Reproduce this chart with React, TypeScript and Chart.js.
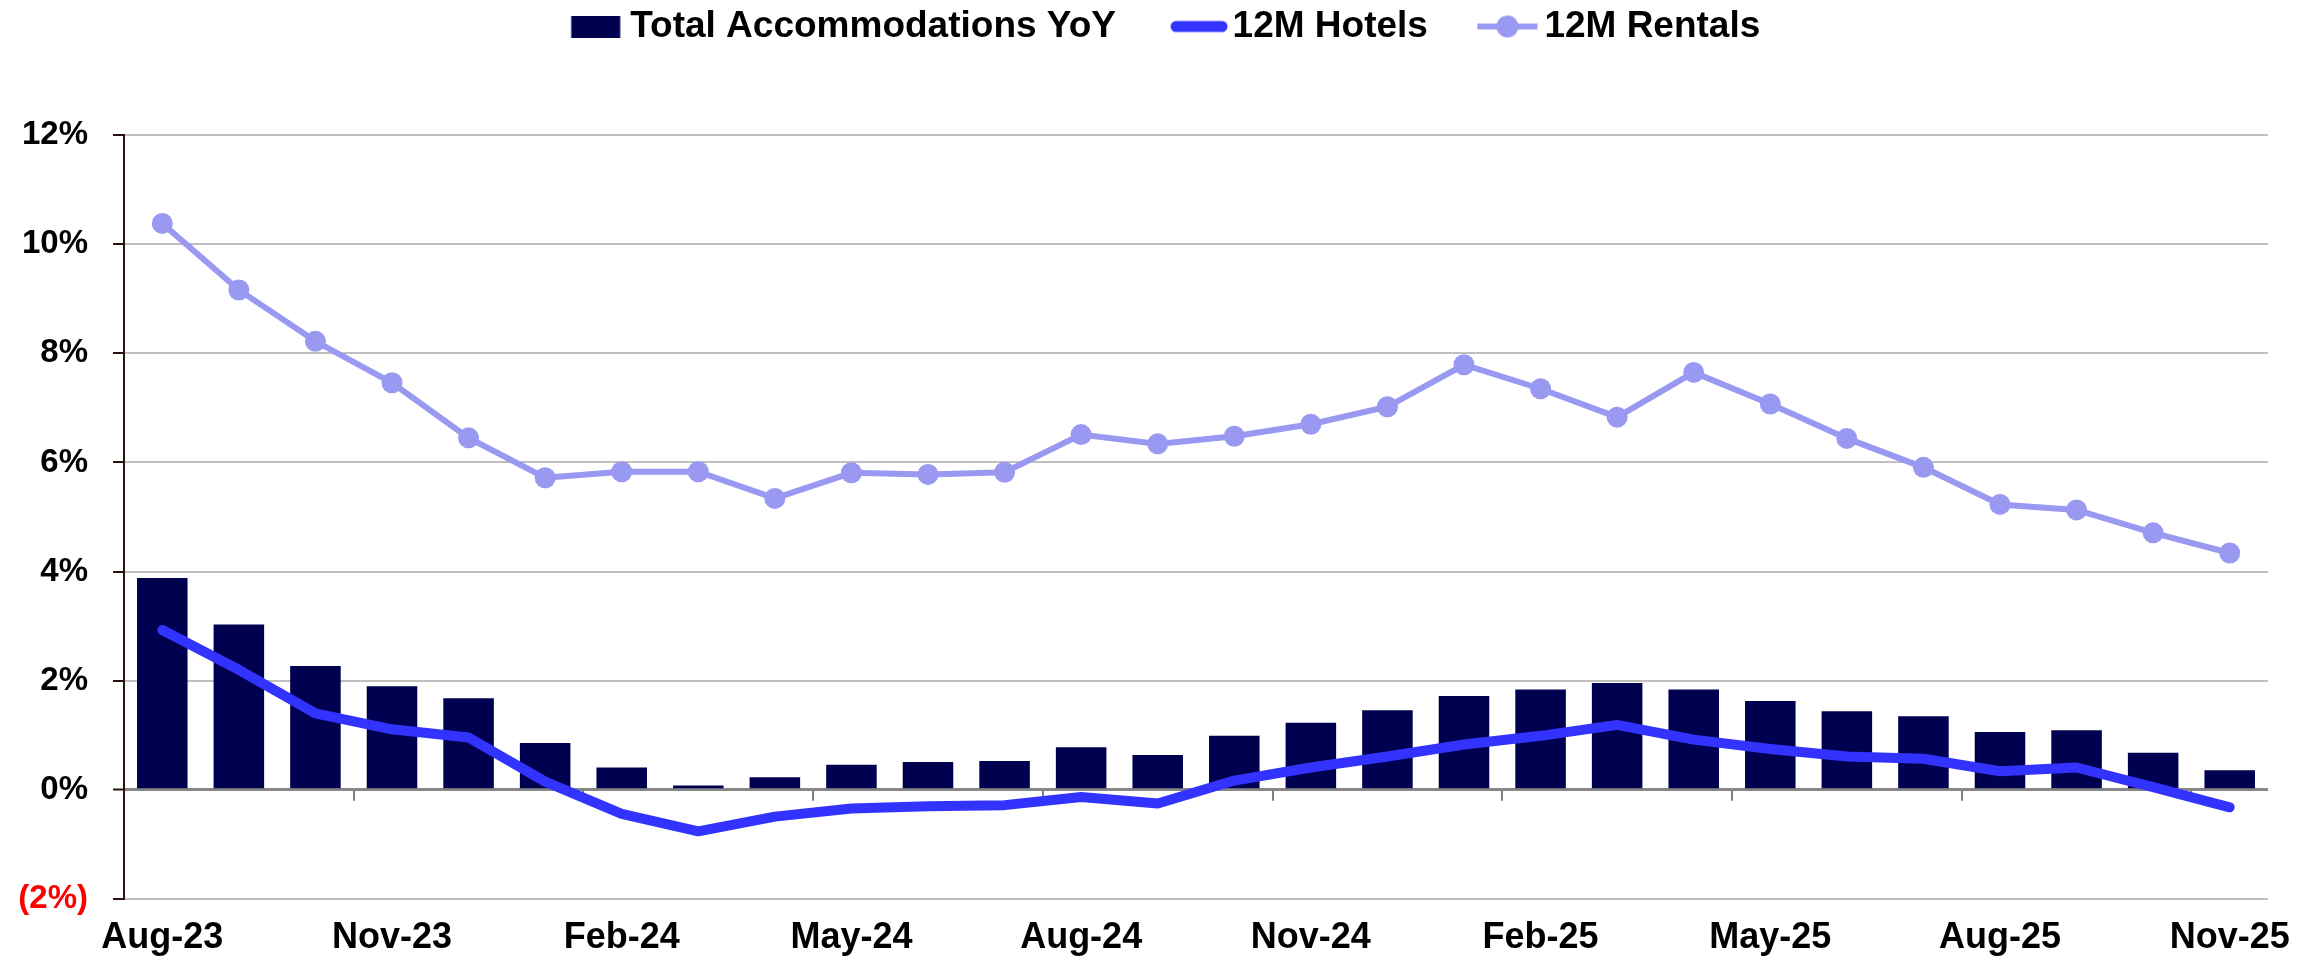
import React, { useEffect, useRef } from 'react';
import { Chart, registerables } from 'chart.js';

Chart.register(...registerables);

const months = [
  'Aug-23', 'Sep-23', 'Oct-23', 'Nov-23', 'Dec-23', 'Jan-24', 'Feb-24', 'Mar-24', 'Apr-24', 'May-24',
  'Jun-24', 'Jul-24', 'Aug-24', 'Sep-24', 'Oct-24', 'Nov-24', 'Dec-24', 'Jan-25', 'Feb-25', 'Mar-25',
  'Apr-25', 'May-25', 'Jun-25', 'Jul-25', 'Aug-25', 'Sep-25', 'Oct-25', 'Nov-25',
];

const totalYoY = [
  3.88, 3.03, 2.27, 1.90, 1.68, 0.86, 0.41, 0.08, 0.23, 0.46,
  0.51, 0.53, 0.78, 0.64, 0.99, 1.23, 1.46, 1.72, 1.84, 1.96,
  1.84, 1.63, 1.44, 1.35, 1.06, 1.09, 0.68, 0.36,
];

const hotels12M = [
  2.93, 2.20, 1.40, 1.11, 0.96, 0.15, -0.44, -0.76, -0.49, -0.34,
  -0.30, -0.28, -0.13, -0.25, 0.17, 0.41, 0.61, 0.83, 0.99, 1.19,
  0.92, 0.75, 0.61, 0.57, 0.34, 0.41, 0.05, -0.32,
];

const rentals12M = [
  10.38, 9.16, 8.22, 7.46, 6.45, 5.72, 5.83, 5.83, 5.34, 5.81,
  5.78, 5.82, 6.51, 6.34, 6.48, 6.70, 7.02, 7.79, 7.35, 6.83,
  7.65, 7.07, 6.44, 5.91, 5.23, 5.13, 4.71, 4.34,
];

const yTicks = [-2, 0, 2, 4, 6, 8, 10, 12];
const seriesNames = ['Total Accommodations YoY', '12M Hotels', '12M Rentals'];

const BAR_COLOR = '#000050';
const HOTEL_COLOR = '#3333FF';
const RENTAL_COLOR = '#9999F2';
const AXIS_COLOR = '#2B1010';
const FONT = "'Liberation Sans', Arial, Helvetica, sans-serif";

const MARKER_W = 118;
const BOX_W = 90;

function makeCanvas(w: number, h: number) {
  const c = document.createElement('canvas');
  c.width = w;
  c.height = h;
  return c;
}

function makeBarMarker() {
  const c = makeCanvas(MARKER_W, 22);
  const ctx = c.getContext('2d')!;
  ctx.fillStyle = BAR_COLOR;
  ctx.fillRect(MARKER_W - 5.5 - 49, 0, 49, 22);
  return c;
}

function makeHotelMarker() {
  const c = makeCanvas(MARKER_W, 14);
  const ctx = c.getContext('2d')!;
  ctx.strokeStyle = HOTEL_COLOR;
  ctx.lineWidth = 11;
  ctx.lineCap = 'round';
  ctx.beginPath();
  ctx.moveTo(MARKER_W - 52, 7);
  ctx.lineTo(MARKER_W - 6, 7);
  ctx.stroke();
  return c;
}

function makeRentalMarker() {
  const c = makeCanvas(MARKER_W, 24);
  const ctx = c.getContext('2d')!;
  ctx.strokeStyle = RENTAL_COLOR;
  ctx.fillStyle = RENTAL_COLOR;
  ctx.lineWidth = 6;
  ctx.beginPath();
  ctx.moveTo(MARKER_W - 2.5 - 60, 12);
  ctx.lineTo(MARKER_W - 2.5, 12);
  ctx.stroke();
  ctx.beginPath();
  ctx.arc(MARKER_W - 2.5 - 30, 12, 11, 0, Math.PI * 2);
  ctx.fill();
  return c;
}

const fmtPct = (v: number) => (v < 0 ? `(${Math.abs(v)}%)` : `${v}%`);

const zeroTickPlugin = {
  id: 'zeroTicks',
  beforeDatasetsDraw(chart: any) {
    const xs = chart.scales.x;
    const ys = chart.scales.y;
    const y0 = ys.getPixelForValue(0);
    const ctx = chart.ctx;
    ctx.save();
    ctx.strokeStyle = '#808080';
    ctx.lineWidth = 2;
    for (let k = 3; k < months.length; k += 3) {
      const px = Math.round(xs.getPixelForValue(k - 0.5));
      ctx.beginPath();
      ctx.moveTo(px, y0);
      ctx.lineTo(px, y0 + 11);
      ctx.stroke();
    }
    ctx.restore();
  },
};

export default function App() {
  const ref = useRef<HTMLCanvasElement>(null);

  useEffect(() => {
    const canvas = ref.current!;
    const markers = [makeBarMarker(), makeHotelMarker(), makeRentalMarker()];

    const chart = new Chart(canvas, {
      type: 'bar',
      data: {
        labels: months,
        datasets: [
          {
            type: 'line',
            label: seriesNames[1],
            data: hotels12M,
            borderColor: HOTEL_COLOR,
            backgroundColor: HOTEL_COLOR,
            borderWidth: 10,
            pointRadius: 0,
            tension: 0,
            borderCapStyle: 'round',
            borderJoinStyle: 'round',
            order: 1,
          } as any,
          {
            type: 'line',
            label: seriesNames[2],
            data: rentals12M,
            borderColor: RENTAL_COLOR,
            backgroundColor: RENTAL_COLOR,
            borderWidth: 6,
            pointRadius: 10.5,
            pointBackgroundColor: RENTAL_COLOR,
            pointBorderWidth: 0,
            tension: 0,
            order: 2,
          } as any,
          {
            type: 'bar',
            label: seriesNames[0],
            data: totalYoY,
            backgroundColor: BAR_COLOR,
            borderWidth: 0,
            categoryPercentage: 1,
            barPercentage: 0.66,
            order: 3,
          } as any,
        ],
      },
      options: {
        responsive: false,
        animation: false,
        devicePixelRatio: 1,
        layout: { padding: { left: 14, right: 53, top: 0, bottom: 0 } },
        plugins: {
          tooltip: { enabled: false },
          title: {
            display: true,
            text: '',
            weight: 500,
            font: { size: 10, lineHeight: 1 },
            padding: { top: 70, bottom: 0 },
          } as any,
          legend: {
            display: true,
            position: 'top',
            align: 'center',
            labels: {
              usePointStyle: true,
              pointStyleWidth: BOX_W,
              boxHeight: 37,
              padding: 8,
              color: '#000000',
              font: { family: FONT, size: 37, weight: 'bold' },
              generateLabels: () => [0, 1, 2].map((i) => ({
                text: seriesNames[i],
                fillStyle: [BAR_COLOR, HOTEL_COLOR, RENTAL_COLOR][i],
                strokeStyle: [BAR_COLOR, HOTEL_COLOR, RENTAL_COLOR][i],
                lineWidth: 0,
                pointStyle: markers[i],
                hidden: false,
                datasetIndex: [2, 0, 1][i],
                fontColor: '#000000',
              })) as any,
            },
          },
        },
        scales: {
          x: {
            grid: { display: false, drawTicks: false },
            border: { display: false },
            ticks: {
              autoSkip: false,
              maxRotation: 0,
              minRotation: 0,
              padding: 17,
              color: '#000000',
              font: { family: FONT, size: 36, weight: 'bold' },
              callback: (_v: any, i: number) => (i % 3 === 0 ? months[i] : ''),
            },
            afterFit: (s: any) => {
              s.height = 62;
            },
          },
          y: {
            min: -2,
            max: 12,
            afterBuildTicks: (s: any) => {
              s.ticks = yTicks.map((v) => ({ value: v }));
            },
            ticks: {
              padding: 25,
              font: { family: FONT, size: 33, weight: 'bold' },
              color: (ctx: any) => (ctx.tick && ctx.tick.value < 0 ? '#FF0000' : '#000000'),
              callback: (v: any) => fmtPct(Number(v)),
            },
            grid: {
              color: (ctx: any) => (ctx.tick && ctx.tick.value === 0 ? '#878787' : '#BFBFBF'),
              lineWidth: (ctx: any) => (ctx.tick && ctx.tick.value === 0 ? 3 : 2),
              drawTicks: true,
              tickLength: 11,
              tickWidth: 2,
              tickColor: AXIS_COLOR,
            } as any,
            border: { display: true, color: AXIS_COLOR, width: 2 },
            afterFit: (s: any) => {
              s.width = 110;
            },
          },
        },
      },
      plugins: [zeroTickPlugin],
    });

    return () => chart.destroy();
  }, []);

  return (
    <div style={{ position: 'absolute', left: 0, top: 0, width: 2321, height: 961, background: '#ffffff' }}>
      <canvas ref={ref} width={2321} height={961} style={{ display: 'block' }} />
    </div>
  );
}
